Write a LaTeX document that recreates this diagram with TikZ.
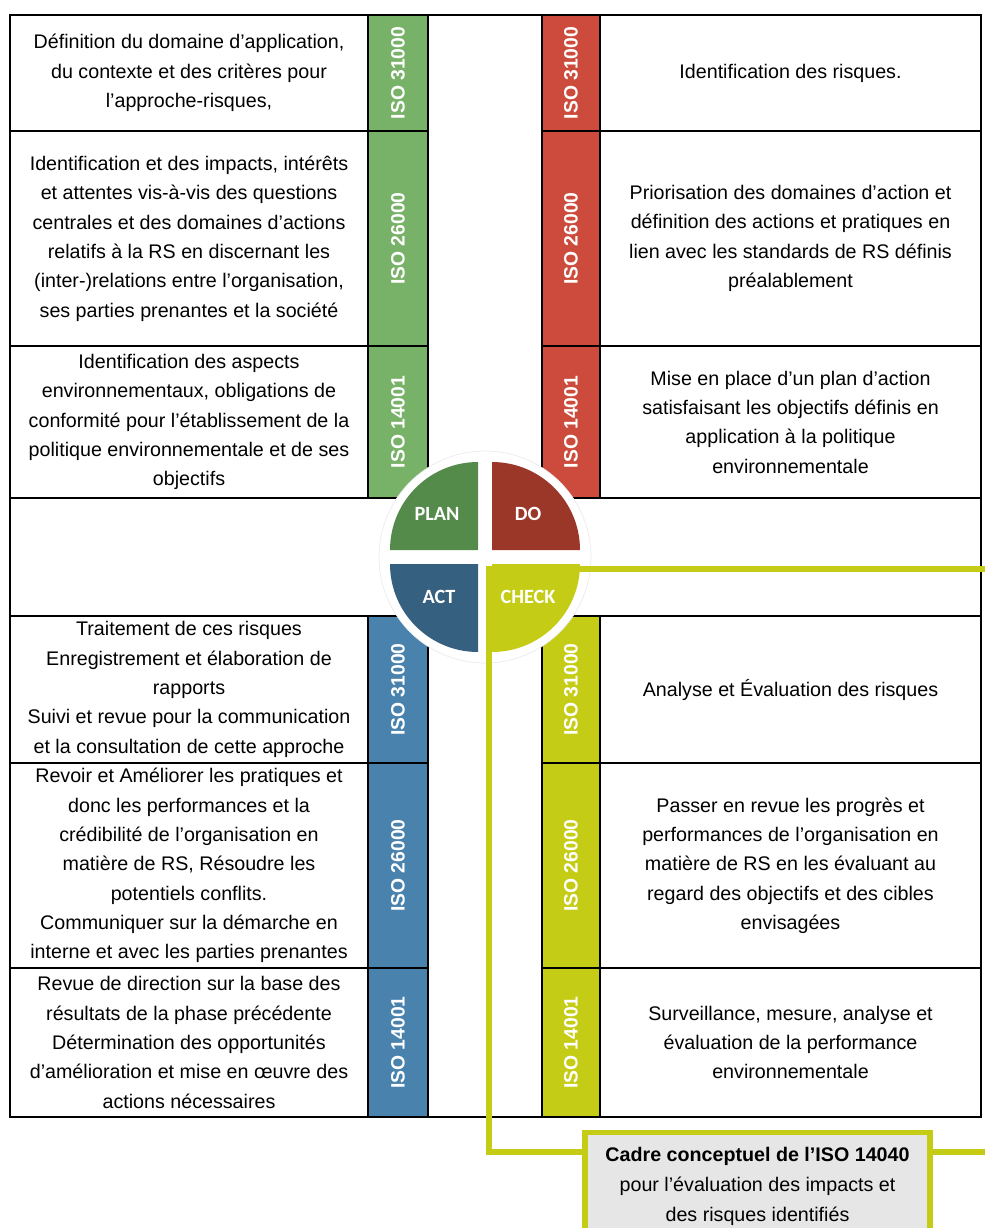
\documentclass[tikz,border=0pt]{standalone}
\usepackage{fontspec}
\setmainfont{Liberation Sans}
\newfontfamily\calibrifont{Carlito}
\usepackage{graphicx}
\usepackage{tikz}
\usetikzlibrary{positioning}
\definecolor{PlanLight}{RGB}{119, 178, 104}
\definecolor{PlanDark}{RGB}{84, 139, 75}
\definecolor{DoLight}{RGB}{204, 75, 60}
\definecolor{DoDark}{RGB}{155, 55, 41}
\definecolor{ActLight}{RGB}{72, 130, 173}
\definecolor{ActDark}{RGB}{54, 96, 127}
\definecolor{CheckLight}{RGB}{197, 204, 22}
\definecolor{CheckLine}{RGB}{197, 204, 22}
\definecolor{BoxGray}{RGB}{230, 230, 230}

\begin{document}
\begin{tikzpicture}[
		cell/.style={
			rectangle, draw=black, line width=1pt, outer sep=0pt, inner sep=2pt,
			align=center, text=black, font=\fontsize{11.2}{16.7}\selectfont
		},
		leftCell/.style={cell, minimum width=7.16cm},
		rightCell/.style={cell, minimum width=7.62cm},
		isoStrip/.style={cell, minimum width=1.2cm, text=white, font=\fontsize{11}{13}\selectfont\bfseries},
		planStrip/.style={isoStrip, fill=PlanLight},
		doStrip/.style={isoStrip, fill=DoLight, minimum width=1.16cm},
		actStrip/.style={isoStrip, fill=ActLight},
		checkStrip/.style={isoStrip, fill=CheckLight, minimum width=1.16cm},
		quadLabel/.style={text=white, font=\calibrifont\fontsize{11.5}{13}\selectfont\bfseries},
		connector/.style={draw=CheckLine, line width=3pt},
		lcaBox/.style={
			rectangle, draw=CheckLine, line width=3pt, fill=BoxGray,
			minimum width=6.9cm, inner ysep=0.3cm, align=center,
			text=black, font=\fontsize{11.2}{17}\selectfont
		}
		]
		
		\useasboundingbox (0,0) rectangle (19.7,-24.56);
		\clip (0,0) rectangle (19.7,-24.56);
		
		\node[leftCell, minimum height=2.32cm, anchor=north west] (plan1) at (0.2,-0.3) {Définition du domaine d’application,\\ du contexte et des critères pour\\ l’approche-risques,};
		\node[leftCell, minimum height=4.3cm] (plan2) [below=0pt of plan1] {Identification et des impacts, intérêts\\ et attentes vis-à-vis des questions\\ centrales et des domaines d’actions\\ relatifs à la RS en discernant les\\ (inter-)relations entre l’organisation,\\ ses parties prenantes et la société};
		\node[leftCell, minimum height=3.04cm] (plan3) [below=0pt of plan2] {Identification des aspects\\ environnementaux, obligations de\\ conformité pour l’établissement de la\\ politique environnementale et de ses\\ objectifs};
		\node[planStrip, minimum height=2.32cm] (planIso1) [right=0pt of plan1] {\rotatebox{90}{ISO 31000}};
		\node[planStrip, minimum height=4.3cm] (planIso2) [right=0pt of plan2] {\rotatebox{90}{ISO 26000}};
		\node[planStrip, minimum height=3.04cm] (planIso3) [right=0pt of plan3] {\rotatebox{90}{ISO 14001}};
		
		\node[rightCell, minimum height=2.32cm, anchor=north east] (do1) at (19.62,-0.3) {Identification des risques.};
		\node[rightCell, minimum height=4.3cm] (do2) [below=0pt of do1] {Priorisation des domaines d’action et\\ définition des actions et pratiques en\\ lien avec les standards de RS définis\\ préalablement};
		\node[rightCell, minimum height=3.04cm] (do3) [below=0pt of do2] {Mise en place d’un plan d’action\\ satisfaisant les objectifs définis en\\ application à la politique\\ environnementale};
		\node[doStrip, minimum height=2.32cm] (doIso1) [left=0pt of do1] {\rotatebox{90}{ISO 31000}};
		\node[doStrip, minimum height=4.3cm] (doIso2) [left=0pt of do2] {\rotatebox{90}{ISO 26000}};
		\node[doStrip, minimum height=3.04cm] (doIso3) [left=0pt of do3] {\rotatebox{90}{ISO 14001}};
		
		\node[leftCell, minimum height=2.94cm, anchor=north west] (act1) at (0.2,-12.32) {Traitement de ces risques\\ Enregistrement et élaboration de\\ rapports\\ Suivi et revue pour la communication\\ et la consultation de cette approche};
		\node[leftCell, minimum height=4.1cm] (act2) [below=0pt of act1] {Revoir et Améliorer les pratiques et\\ donc les performances et la\\ crédibilité de l’organisation en\\ matière de RS, Résoudre les\\ potentiels conflits.\\ Communiquer sur la démarche en\\ interne et avec les parties prenantes};
		\node[leftCell, minimum height=2.98cm] (act3) [below=0pt of act2] {Revue de direction sur la base des\\ résultats de la phase précédente\\ Détermination des opportunités\\ d’amélioration et mise en œuvre des\\ actions nécessaires};
		\node[actStrip, minimum height=2.94cm] (actIso1) [right=0pt of act1] {\rotatebox{90}{ISO 31000}};
		\node[actStrip, minimum height=4.1cm] (actIso2) [right=0pt of act2] {\rotatebox{90}{ISO 26000}};
		\node[actStrip, minimum height=2.98cm] (actIso3) [right=0pt of act3] {\rotatebox{90}{ISO 14001}};
		
		\node[rightCell, minimum height=2.94cm, anchor=north east] (check1) at (19.62,-12.32) {Analyse et Évaluation des risques};
		\node[rightCell, minimum height=4.1cm] (check2) [below=0pt of check1] {Passer en revue les progrès et\\ performances de l’organisation en\\ matière de RS en les évaluant au\\ regard des objectifs et des cibles\\ envisagées};
		\node[rightCell, minimum height=2.98cm] (check3) [below=0pt of check2] {Surveillance, mesure, analyse et\\ évaluation de la performance\\ environnementale};
		\node[checkStrip, minimum height=2.94cm] (checkIso1) [left=0pt of check1] {\rotatebox{90}{ISO 31000}};
		\node[checkStrip, minimum height=4.1cm] (checkIso2) [left=0pt of check2] {\rotatebox{90}{ISO 26000}};
		\node[checkStrip, minimum height=2.98cm] (checkIso3) [left=0pt of check3] {\rotatebox{90}{ISO 14001}};
		
		\draw[line width=1pt] (plan1.north west) rectangle (check3.south east);
		\draw[line width=1pt] (plan3.south west) -- (do3.south east);
		\draw[line width=1pt] (act1.north west) -- (check1.north east);
		
		\filldraw[fill=white, draw=black!8, thin] (9.7,-11.14) circle (2.12);
		\fill[PlanDark] (9.56,-11.0) -- ++(-1.76,0) arc[start angle=180, end angle=90, radius=1.76] -- cycle;
		\fill[DoDark] (9.84,-11.0) -- ++(1.76,0) arc[start angle=0, end angle=90, radius=1.76] -- cycle;
		\fill[ActDark] (9.56,-11.28) -- ++(-1.76,0) arc[start angle=180, end angle=270, radius=1.76] -- cycle;
		\fill[CheckLight] (9.84,-11.28) -- ++(1.76,0) arc[start angle=0, end angle=-90, radius=1.76] -- cycle;
		
		\node[quadLabel] (planLabel) at (8.74,-10.28) {PLAN};
		\node[quadLabel] (doLabel) at (10.56,-10.28) {DO};
		\node[quadLabel] (actLabel) at (8.78,-11.94) {ACT};
		\node[quadLabel] (checkLabel) at (10.56,-11.94) {CHECK};
		
		\node[lcaBox, anchor=north] (lca) at (15.15,-22.6) {\textbf{Cadre conceptuel de l’ISO 14040}\\ pour l’évaluation des impacts et\\ des risques identifiés};
		
		\coordinate (checkCorner) at (9.78,-11.38);
		\coordinate (rimEast) at (19.7,-11.38);
		\coordinate (lcaIn) at (9.78,-23.04);
		\coordinate (lcaOut) at (19.7,-23.04);
		\draw[connector] (rimEast) -- (checkCorner) -- (lcaIn) -- (lca.west |- lcaIn);
		\draw[connector] (lca.east |- lcaIn) -- (lcaOut);
	\end{tikzpicture}
\end{document}
